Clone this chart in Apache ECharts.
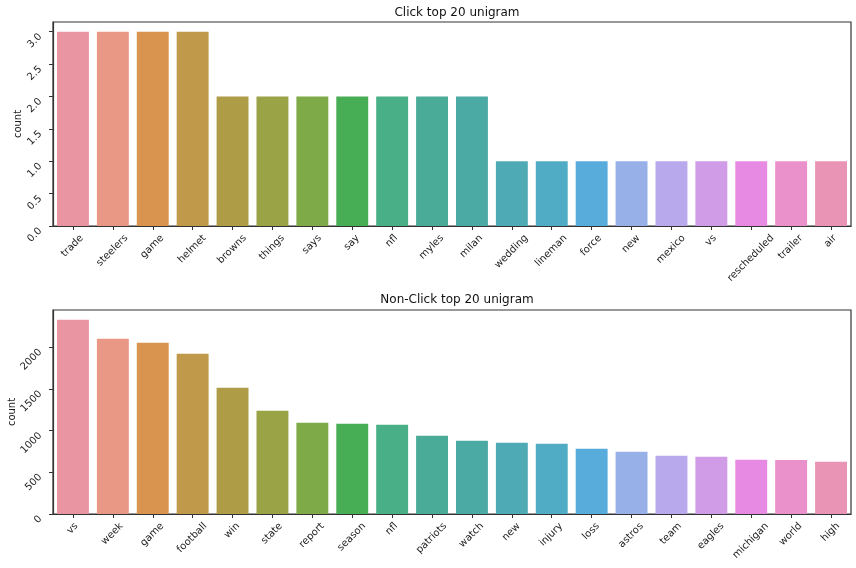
<!DOCTYPE html>
<html>
<head>
<meta charset="utf-8">
<script src="https://cdn.jsdelivr.net/npm/echarts@6/dist/echarts.min.js"></script>
<style>html,body{margin:0;padding:0;background:#fff}#c{width:856px;height:568px}</style>
</head>
<body>
<div id="c"></div>
<script>
const clickWords = ["trade","steelers","game","helmet","browns","things","says","say","nfl","myles","milan","wedding","lineman","force","new","mexico","vs","rescheduled","trailer","air"];
const clickCounts = [3,3,3,3,2,2,2,2,2,2,2,1,1,1,1,1,1,1,1,1];
const nonClickWords = ["vs","week","game","football","win","state","report","season","nfl","patriots","watch","new","injury","loss","astros","team","eagles","michigan","world","high"];
const nonClickCounts = [2327,2099,2052,1920,1513,1237,1094,1082,1070,938,878,854,842,782,746,698,686,650,648,626];
const topTicks = [0,0.5,1.0,1.5,2.0,2.5,3.0];
const bottomTicks = [0,500,1000,1500,2000];

const palette = ["#EA96A2","#E99886","#D99550","#C09A4A","#AE9D46","#9AA346","#7EAA48","#48AE56","#48AF86","#4AAB98","#4BAAA4","#4EABB5","#50ACC4","#58ACDC","#97B0E8","#B8A9EC","#D09BE7","#E78AE3","#EA90CA","#EA94B5"];

const font = "DejaVu Sans";
const txt = "#222";
const FS = 10;
const measureCtx = document.createElement('canvas').getContext('2d');
measureCtx.font = FS + 'px "' + font + '"';

// category labels rotated 45deg, centred under the tick (matplotlib style)
function catData(words){
  return words.map(w => {
    const tw = measureCtx.measureText(w).width;
    const h = FS * 1.15;
    const p = (tw + h) / 2;
    const q = Math.max(0, (tw + h) / 4 - h / 2);
    return {value: w, textStyle: {align:'center', verticalAlign:'top', padding:[q, p, 0, 0]}};
  });
}
function xAx(idx, words){
  return {type:'category', gridIndex:idx, data:catData(words), boundaryGap:true,
    axisLine:{show:true, lineStyle:{color:'#333', width:1.2}},
    axisTick:{show:true, alignWithLabel:true, length:4, lineStyle:{color:'#333'}},
    axisLabel:{rotate:45, fontSize:FS, fontFamily:font, color:txt, margin:7, interval:0, hideOverlap:false},
    splitLine:{show:false}};
}
function yAx(idx, max, interval, ticks, gap){
  return {type:'value', gridIndex:idx, min:0, max:max, interval:interval,
    name:'count', nameLocation:'middle', nameGap:gap, nameRotate:90, nameMoveOverlap:false,
    nameTextStyle:{fontSize:FS, fontFamily:font, color:txt},
    axisLine:{show:true, lineStyle:{color:'#333', width:1.2}},
    axisTick:{show:true, length:4, lineStyle:{color:'#333'}},
    axisLabel:{rotate:45, fontSize:FS, fontFamily:font, color:txt, margin:16, align:'right', verticalAlign:'top', showMaxLabel:false,
      formatter:v => { const i = ticks.indexOf(v); return i >= 0 ? (interval < 1 ? ticks[i].toFixed(1) : String(ticks[i])) : ''; }},
    splitLine:{show:false}};
}
const chart = echarts.init(document.getElementById('c'), null, {renderer:'canvas'});
chart.setOption({
  backgroundColor:'#fff',
  animation:false,
  title:[
    {text:'Click top 20 unigram', left:452, top:2, textAlign:'center', textStyle:{fontSize:12, fontWeight:'normal', fontFamily:font, color:'#111'}},
    {text:'Non-Click top 20 unigram', left:452, top:289, textAlign:'center', textStyle:{fontSize:12, fontWeight:'normal', fontFamily:font, color:'#111'}}
  ],
  grid:[
    {left:53, right:5, top:22, height:204, show:true, borderColor:'#333', borderWidth:1.2, backgroundColor:'transparent', containLabel:false, outerBoundsMode:'none'},
    {left:53, right:5, top:310, height:204, show:true, borderColor:'#333', borderWidth:1.2, backgroundColor:'transparent', containLabel:false, outerBoundsMode:'none'}
  ],
  xAxis:[xAx(0, clickWords), xAx(1, nonClickWords)],
  yAxis:[
    yAx(0, Math.max(...clickCounts)*1.05, 0.5, topTicks, 30),
    yAx(1, Math.max(...nonClickCounts)*1.05, 500, bottomTicks, 36)
  ],
  series:[
    {type:'bar', xAxisIndex:0, yAxisIndex:0, data:clickCounts, barCategoryGap:'20%',
      itemStyle:{color:p=>palette[p.dataIndex]}},
    {type:'bar', xAxisIndex:1, yAxisIndex:1, data:nonClickCounts, barCategoryGap:'20%',
      itemStyle:{color:p=>palette[p.dataIndex]}}
  ]
});
</script>
</body>
</html>
